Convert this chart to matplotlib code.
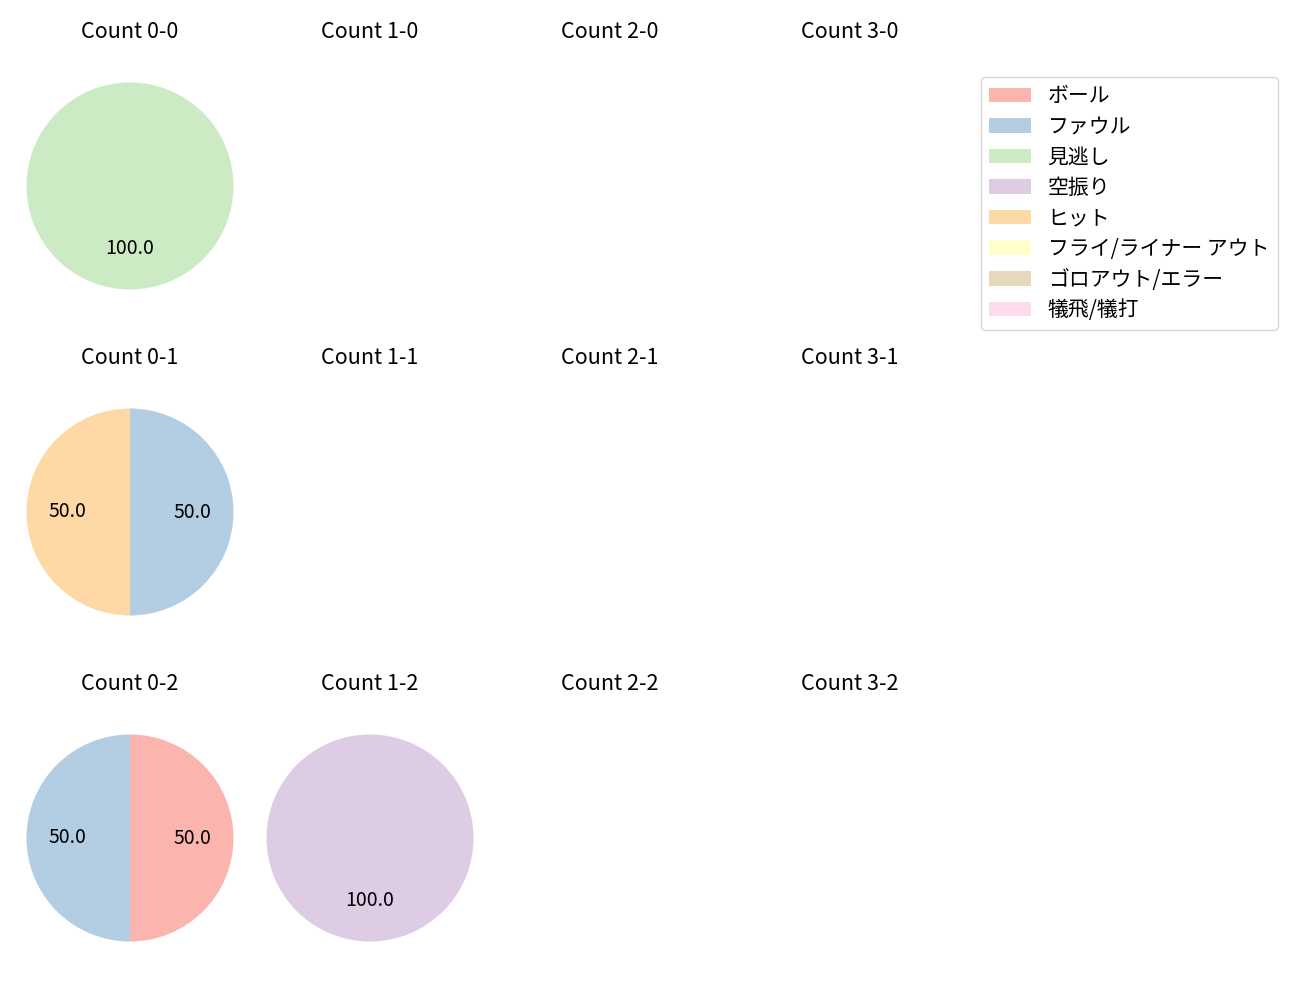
import matplotlib
matplotlib.use("Agg")
import matplotlib.pyplot as plt
from matplotlib.patches import Patch

plt.rcParams['font.family'] = ['Noto Sans CJK JP', 'DejaVu Sans']

# Kategorien und Farben (Pastel1)
labels = ["ボール", "ファウル", "見逃し", "空振り", "ヒット",
          "フライ/ライナー アウト", "ゴロアウト/エラー", "犠飛/犠打"]
colors = ["#fbb4ae", "#b3cde3", "#ccebc5", "#decbe4", "#fed9a6",
          "#ffffcc", "#e5d8bd", "#fddaec"]

# Anteile je Zählstand (Bälle-Strikes), Reihenfolge wie labels
counts = {
    "0-0": [0, 0, 100, 0, 0, 0, 0, 0],
    "0-1": [0, 50, 0, 0, 50, 0, 0, 0],
    "0-2": [50, 50, 0, 0, 0, 0, 0, 0],
    "1-2": [0, 0, 0, 100, 0, 0, 0, 0],
}
balls = [0, 1, 2, 3]
strikes = [0, 1, 2]

W, H = 1300, 1000
fig = plt.figure(figsize=(13, 10), dpi=100)

box = 240
lim = box / (2 * 103.5)
for s in strikes:
    for b in balls:
        cx = 130 + 240 * b
        cy = 186 + 326 * s
        ax = fig.add_axes([(cx - box / 2) / W, 1 - (cy + box / 2) / H, box / W, box / H])
        key = f"{b}-{s}"
        if key in counts:
            vals = counts[key]
            idx = [i for i, v in enumerate(vals) if v > 0]
            ax.pie([vals[i] for i in idx], colors=[colors[i] for i in idx],
                   startangle=90, counterclock=False, autopct="%.1f",
                   textprops={"fontsize": 14})
        ax.set_xlim(-lim, lim)
        ax.set_ylim(-lim, lim)
        ax.set_aspect("equal")
        ax.axis("off")
        ax.set_title(f"Count {key}", fontsize=15.5, pad=20.5)

handles = [Patch(facecolor=c) for c in colors]
fig.legend(handles, labels, loc="upper left",
           bbox_to_anchor=(981 / W, 1 - 77 / H), borderaxespad=0,
           fontsize=15, labelspacing=0.41, handlelength=2)

plt.savefig("out.png", dpi=100)
